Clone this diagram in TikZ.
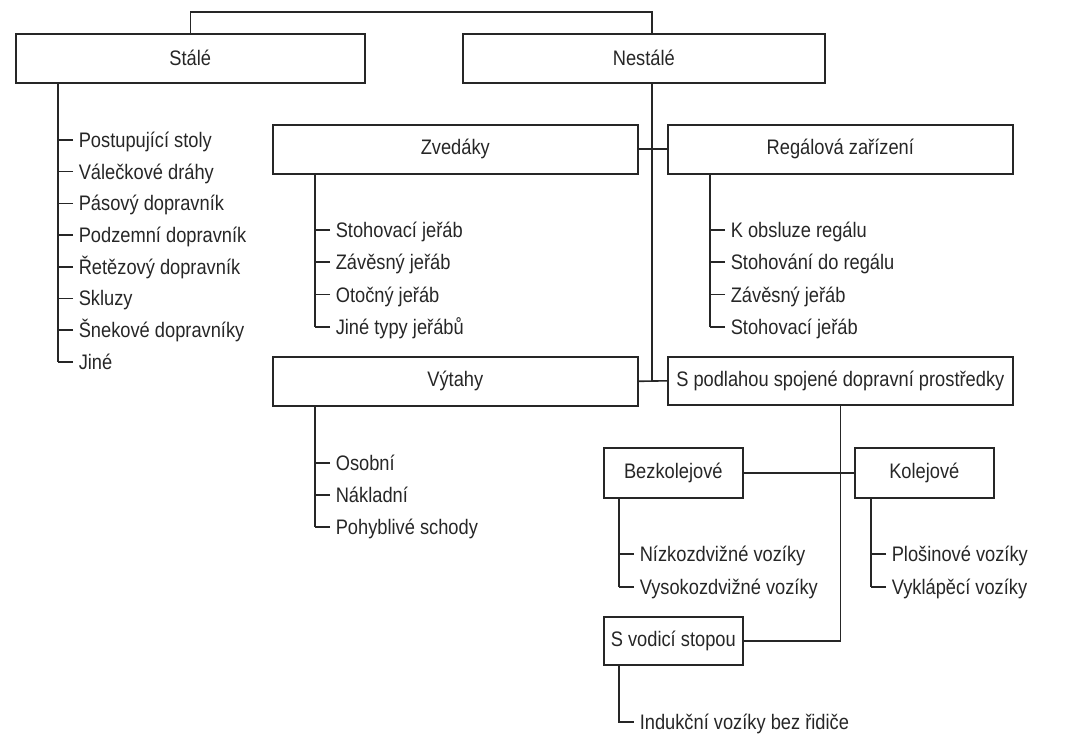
\documentclass[tikz,border=0pt]{standalone}
\usepackage{fontspec}
\setmainfont{Liberation Sans}[FakeStretch=0.87]

\tikzset{
  box/.style={draw, anchor=north west, inner sep=0pt, font=\fontsize{21}{25}\selectfont},
  item/.style={anchor=west, inner xsep=5pt, inner ysep=0pt, text height=19pt, text depth=4pt,
    font=\fontsize{21}{25}\selectfont}
}

\begin{document}
\begin{tikzpicture}[x=1pt,y=-1pt,line width=1.6pt,color=black!85]
\useasboundingbox (0,0) rectangle (1066,735);

\node[box,minimum width=349pt,minimum height=49pt] (stale) at (15,33) {Stálé};
\node[box,minimum width=362pt,minimum height=49pt] (nestale) at (462,33) {Nestálé};
\node[box,minimum width=365pt,minimum height=49pt] (zvedaky) at (272,124) {Zvedáky};
\node[box,minimum width=345pt,minimum height=49pt] (regal) at (667,124) {Regálová zařízení};
\node[box,minimum width=365pt,minimum height=49pt] (vytahy) at (272,356) {Výtahy};
\node[box,minimum width=345pt,minimum height=48pt] (podlaha) at (667,356) {S podlahou spojené dopravní prostředky};
\node[box,minimum width=139pt,minimum height=50pt] (bezkol) at (603,447) {Bezkolejové};
\node[box,minimum width=139pt,minimum height=50pt] (kolej) at (854,447) {Kolejové};
\node[box,minimum width=139pt,minimum height=48pt] (vodici) at (603,616) {S vodicí stopou};

\coordinate (top) at (652,12);
\draw (stale.north) |- (top) -- (top |- nestale.north);
\draw (top |- nestale.south) -- (top |- vytahy.east);
\draw (zvedaky.east) -- (regal.west);
\draw (vytahy.east) -- (podlaha.west);
\draw (bezkol.east) -- (kolej.west);
\draw (podlaha.south) |- (vodici.east);

\coordinate (sttrunk) at ([xshift=43pt]stale.south west);
\foreach \txt [count=\i] in {Postupující stoly,Válečkové dráhy,Pásový dopravník,Podzemní dopravník,
  Řetězový dopravník,Skluzy,Šnekové dopravníky,Jiné}
{
  \node[item] (st\i) at (73,{140+31.7*(\i-1)}) {\txt};
  \draw (st\i.west) -- (st\i.west -| sttrunk);
}
\draw (sttrunk) -- (sttrunk |- st8.west);

\coordinate (zvtrunk) at ([xshift=43pt]zvedaky.south west);
\foreach \txt [count=\i] in {Stohovací jeřáb,Závěsný jeřáb,Otočný jeřáb,Jiné typy jeřábů}
{
  \node[item] (zv\i) at (330,{230+32.3*(\i-1)}) {\txt};
  \draw (zv\i.west) -- (zv\i.west -| zvtrunk);
}
\draw (zvtrunk) -- (zvtrunk |- zv4.west);

\coordinate (retrunk) at ([xshift=43pt]regal.south west);
\foreach \txt [count=\i] in {K obsluze regálu,Stohování do regálu,Závěsný jeřáb,Stohovací jeřáb}
{
  \node[item] (re\i) at (725,{230+32.3*(\i-1)}) {\txt};
  \draw (re\i.west) -- (re\i.west -| retrunk);
}
\draw (retrunk) -- (retrunk |- re4.west);

\coordinate (vytrunk) at ([xshift=43pt]vytahy.south west);
\foreach \txt [count=\i] in {Osobní,Nákladní,Pohyblivé schody}
{
  \node[item] (vy\i) at (330,{463+32*(\i-1)}) {\txt};
  \draw (vy\i.west) -- (vy\i.west -| vytrunk);
}
\draw (vytrunk) -- (vytrunk |- vy3.west);

\coordinate (betrunk) at ([xshift=16pt]bezkol.south west);
\foreach \txt [count=\i] in {Nízkozdvižné vozíky,Vysokozdvižné vozíky}
{
  \node[item] (be\i) at (634,{554+33*(\i-1)}) {\txt};
  \draw (be\i.west) -- (be\i.west -| betrunk);
}
\draw (betrunk) -- (betrunk |- be2.west);

\coordinate (kotrunk) at ([xshift=17pt]kolej.south west);
\foreach \txt [count=\i] in {Plošinové vozíky,Vyklápěcí vozíky}
{
  \node[item] (ko\i) at (886,{554+33*(\i-1)}) {\txt};
  \draw (ko\i.west) -- (ko\i.west -| kotrunk);
}
\draw (kotrunk) -- (kotrunk |- ko2.west);

\coordinate (votrunk) at ([xshift=16pt]vodici.south west);
\node[item] (vo1) at (634,722) {Indukční vozíky bez řidiče};
\draw (votrunk) |- (vo1.west);
\end{tikzpicture}
\end{document}
